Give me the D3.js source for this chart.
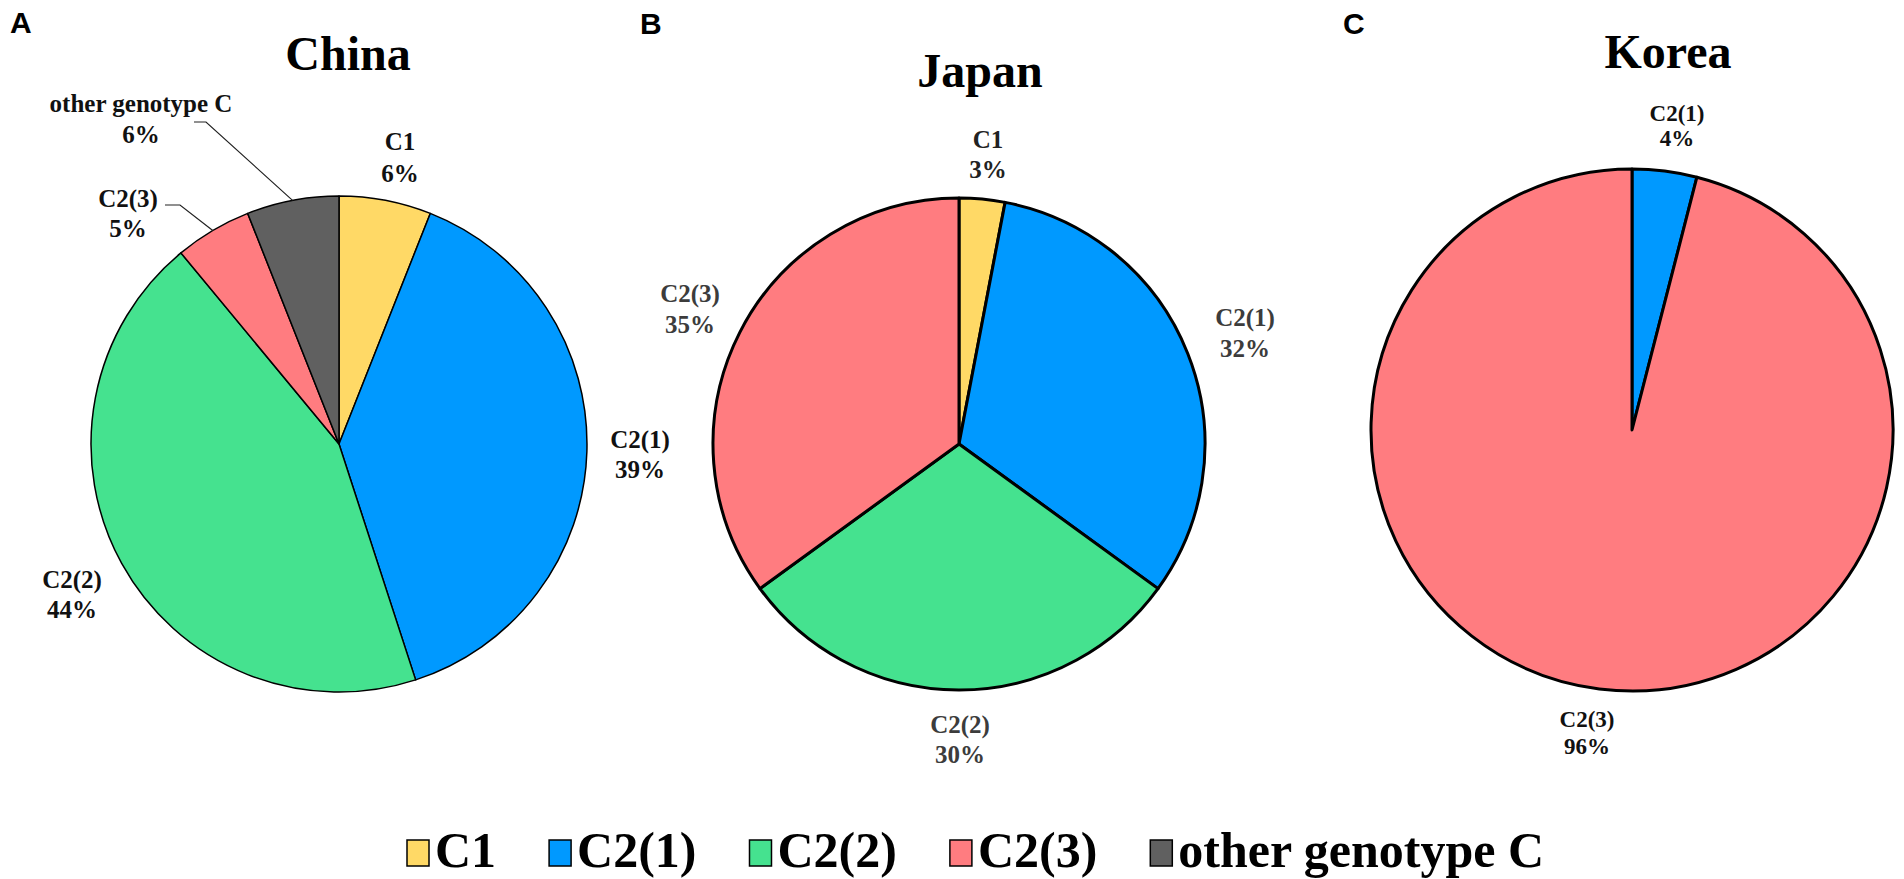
<!DOCTYPE html>
<html>
<head>
<meta charset="utf-8">
<script src="https://cdn.jsdelivr.net/npm/d3@7"></script>
<style>
  html, body { margin: 0; padding: 0; background: #fff; }
  svg { display: block; }
</style>
</head>
<body>
<svg id="chart" width="1904" height="879"></svg>
<script>
// ---------- data ----------
const categories = ["C1", "C2(1)", "C2(2)", "C2(3)", "other genotype C"];
const colors = ["#FFD966", "#0099FF", "#45E28F", "#FF7C80", "#606060"];
const panelNames = ["China", "Japan", "Korea"];
const panelLetters = ["A", "B", "C"];
const chinaValues = [6, 39, 44, 5, 6];
const japanValues = [3, 32, 30, 35, 0];
const koreaValues = [0, 4, 0, 96, 0];

// ---------- layout ----------
const svg = d3.select("#chart");
const serif = "'Liberation Serif', 'Times New Roman', serif";
const sans = "'Liberation Sans', Arial, sans-serif";

const panels = [
  { values: chinaValues, cx: 339, cy: 444, r: 248, stroke: 1.5,
    title: { x: 348, y: 70 }, letter: { x: 10, y: 33 },
    labelSize: 25, labelColor: "#111",
    labels: {
      "C1": { x: 400, y: 150, gap: 32 },
      "C2(1)": { x: 640, y: 448, gap: 30 },
      "C2(2)": { x: 72, y: 588, gap: 30 },
      "C2(3)": { x: 128, y: 207, gap: 30, leader: [[165, 205], [180, 205]] },
      "other genotype C": { x: 141, y: 112, gap: 31, leader: [[194, 122], [206, 122]] }
    } },
  { values: japanValues, cx: 959, cy: 444, r: 246, stroke: 3,
    title: { x: 980, y: 87 }, letter: { x: 640, y: 34 },
    labelSize: 25, labelColor: "#3c3c3c",
    labels: {
      "C1": { x: 988, y: 148, gap: 30, color: "#222" },
      "C2(1)": { x: 1245, y: 326, gap: 31 },
      "C2(2)": { x: 960, y: 733, gap: 30 },
      "C2(3)": { x: 690, y: 302, gap: 31 }
    } },
  { values: koreaValues, cx: 1632, cy: 430, r: 261, stroke: 3,
    title: { x: 1668, y: 68 }, letter: { x: 1343, y: 34 },
    labelSize: 23, labelColor: "#111",
    labels: {
      "C2(1)": { x: 1677, y: 121, gap: 25 },
      "C2(3)": { x: 1587, y: 727, gap: 27 }
    } }
];

const color = d3.scaleOrdinal().domain(categories).range(colors);
const pie = d3.pie().sort(null).value(d => d.value).startAngle(0).endAngle(2 * Math.PI);

panels.forEach((p, i) => {
  const data = categories.map((c, k) => ({ cat: c, value: p.values[k] })).filter(d => d.value > 0);
  const arcs = pie(data);
  const arc = d3.arc().innerRadius(0).outerRadius(p.r);
  const edge = d3.arc().innerRadius(p.r).outerRadius(p.r);

  // panel letter
  svg.append("text")
    .attr("x", p.letter.x).attr("y", p.letter.y)
    .attr("font-family", sans).attr("font-weight", "bold").attr("font-size", 30)
    .attr("fill", "#000")
    .text(panelLetters[i]);

  // title
  svg.append("text")
    .attr("x", p.title.x).attr("y", p.title.y)
    .attr("text-anchor", "middle")
    .attr("font-family", serif).attr("font-weight", "bold").attr("font-size", 48)
    .attr("fill", "#000")
    .text(panelNames[i]);

  const g = svg.append("g").attr("transform", `translate(${p.cx},${p.cy})`);
  g.selectAll("path.slice")
    .data(arcs)
    .join("path")
    .attr("class", "slice")
    .attr("d", arc)
    .attr("fill", d => color(d.data.cat))
    .attr("stroke", "#000")
    .attr("stroke-width", p.stroke)
    .attr("stroke-linejoin", "round");

  // labels
  arcs.forEach(a => {
    const L = p.labels[a.data.cat];
    if (!L) return;
    const t = svg.append("text")
      .attr("text-anchor", "middle")
      .attr("font-family", serif).attr("font-weight", "bold")
      .attr("font-size", p.labelSize)
      .attr("fill", L.color || p.labelColor);
    t.append("tspan").attr("x", L.x).attr("y", L.y).text(a.data.cat);
    t.append("tspan").attr("x", L.x).attr("y", L.y + L.gap).text(a.data.value + "%");

    if (L.leader) {
      const c = edge.centroid(a);
      const pts = L.leader.concat([[p.cx + c[0], p.cy + c[1]]]);
      svg.append("path")
        .attr("d", d3.line()(pts))
        .attr("fill", "none")
        .attr("stroke", "#222")
        .attr("stroke-width", 1.2);
    }
  });
});

// ---------- legend (evenly spaced between left and right ends) ----------
const legendLeft = 407, legendRight = 1544, sq = 22, sqGap = 6;
const legend = svg.append("g");
const items = categories.map(c => {
  const t = legend.append("text")
    .attr("y", 867)
    .attr("font-family", serif).attr("font-weight", "bold").attr("font-size", 50)
    .attr("fill", "#000")
    .text(c);
  return { c, t, w: t.node().getComputedTextLength() };
});
const totalW = d3.sum(items, d => sq + sqGap + d.w);
const spacing = (legendRight - legendLeft - totalW) / (items.length - 1);
let xPos = legendLeft;
items.forEach(d => {
  legend.append("rect")
    .attr("x", xPos).attr("y", 840)
    .attr("width", sq).attr("height", 26)
    .attr("fill", color(d.c))
    .attr("stroke", "#000").attr("stroke-width", 1.5);
  d.t.attr("x", xPos + sq + sqGap);
  xPos += sq + sqGap + d.w + spacing;
});
</script>
</body>
</html>
